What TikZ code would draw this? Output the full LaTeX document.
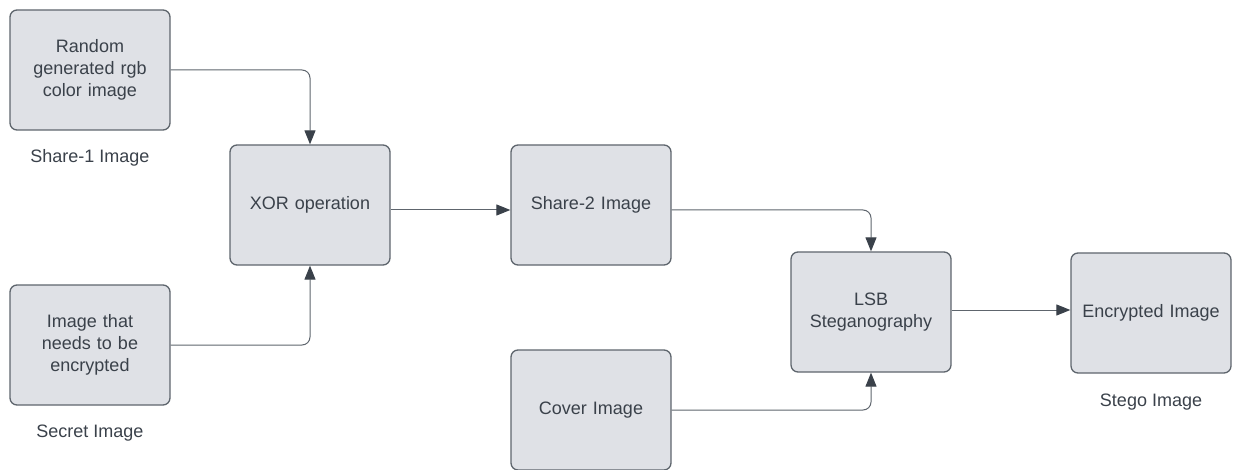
\documentclass[tikz,border=0pt]{standalone}
\usepackage{fontspec}
\setmainfont{Liberation Sans}
\usetikzlibrary{arrows.meta}
\definecolor{boxfill}{HTML}{DFE1E6}
\definecolor{boxline}{HTML}{5E656D}
\definecolor{ink}{HTML}{3A414A}
\tikzset{
  block/.style={draw=boxline, fill=boxfill, line width=1.3pt, rounded corners=7pt,
    minimum width=160pt, minimum height=120pt, inner sep=0pt,
    text=ink, align=center, text width=140pt,
    font=\fontsize{18pt}{22pt}\selectfont},
  caption/.style={text=ink, inner sep=0pt, font=\fontsize{18pt}{22pt}\selectfont},
  link/.style={draw=boxline, line width=1pt, rounded corners=8pt,
    -{Triangle[length=14pt,width=11pt,color=ink]}}
}
\begin{document}
\begin{tikzpicture}[x=1pt,y=-1pt]
\useasboundingbox (0,0) rectangle (1241,470);
% processing blocks
\node[block] (rand)   at (90,70)    {Random\\generated rgb\\color image};
\node[block] (secret) at (90,345)   {Image that\\needs to be\\encrypted};
\node[block] (xor)    at (310,205)  {XOR operation};
\node[block] (share2) at (591,205)  {Share-2 Image};
\node[block] (cover)  at (591,410)  {Cover Image};
\node[block] (lsb)    at (871,312)  {LSB\\Steganography};
\node[block] (enc)    at (1151,313) {Encrypted Image};
% captions under the inputs and output
\node[caption] (cap1) at (90,158)   {Share-1 Image};
\node[caption] (cap2) at (90,433)   {Secret Image};
\node[caption] (cap3) at (1151,402) {Stego Image};
% connector start points on the block edges
\coordinate (xorout) at ([yshift=-5pt]xor.east);
\coordinate (s2out)  at ([yshift=-5pt]share2.east);
\coordinate (lsbout) at ([yshift=2pt]lsb.east);
% connectors
\draw[link] (rand.east) -| (xor.north);
\draw[link] (secret.east) -| (xor.south);
\draw[link] (xorout) -- (xorout -| share2.west);
\draw[link] (s2out) -| (lsb.north);
\draw[link] (cover.east) -| (lsb.south);
\draw[link] (lsbout) -- (lsbout -| enc.west);
\end{tikzpicture}
\end{document}
